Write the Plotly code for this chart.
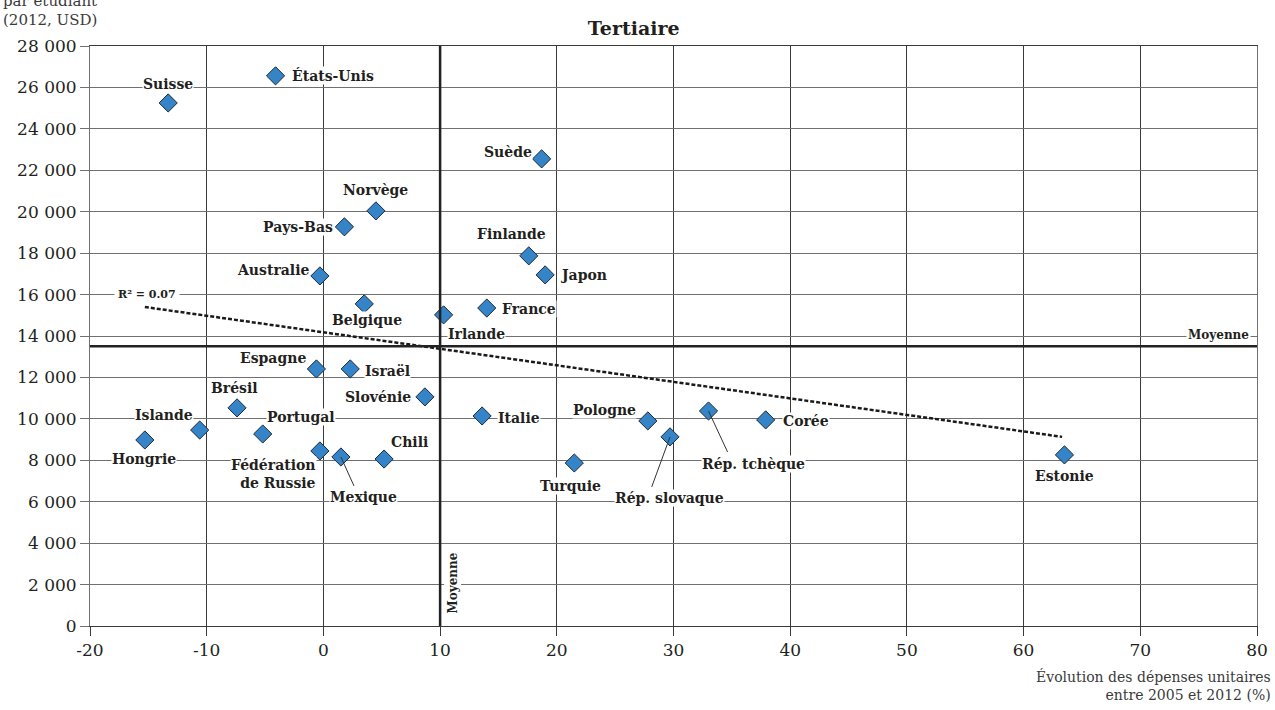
import plotly.graph_objects as go

# ---------------- data ----------------
countries = ["Suisse", "États-Unis", "Suède", "Norvège", "Pays-Bas", "Finlande", "Japon",
             "Australie", "Belgique", "France", "Irlande", "Espagne", "Israël", "Slovénie",
             "Brésil", "Italie", "Pologne", "Rép. tchèque", "Corée", "Rép. slovaque",
             "Islande", "Portugal", "Hongrie", "Fédération<br>de Russie", "Mexique", "Chili",
             "Turquie", "Estonie"]
growth = [-13.3, -4.1, 18.7, 4.5, 1.8, 17.6, 19.0,
          -0.3, 3.5, 14.0, 10.3, -0.6, 2.3, 8.7,
          -7.4, 13.6, 27.8, 33.0, 37.9, 29.7,
          -10.6, -5.2, -15.3, -0.3, 1.5, 5.2,
          21.5, 63.5]
spending = [25250, 26560, 22550, 20040, 19270, 17870, 16950,
            16900, 15550, 15350, 15020, 12410, 12410, 11060,
            10530, 10140, 9900, 10380, 9950, 9130,
            9460, 9270, 8980, 8450, 8160, 8060,
            7870, 8260]

mean_growth = 10
mean_spending = 13500
trend_x = [-15.3, 63.3]
trend_y = [15400, 9130]
r2_text = "R² = 0.07"

x_ticks = [-20, -10, 0, 10, 20, 30, 40, 50, 60, 70, 80]
x_ticklabels = [str(v) for v in x_ticks]
y_ticks = list(range(0, 28001, 2000))
y_ticklabels = ["0" if v == 0 else f"{v // 1000} 000" for v in y_ticks]

# ---------------- style ----------------
FONT = "DejaVu Serif"
TXT = "#231f20"
XGRID = "#3a3a3a"
YGRID = "#707070"
MARK = "#3584c8"
LBL = 14

# label placement: name -> (xanchor, xshift, yshift)
label_pos = {
    "Suisse": ("center", 0, 19),
    "États-Unis": ("left", 15, 0),
    "Suède": ("right", -9, 7),
    "Norvège": ("center", 0, 21),
    "Pays-Bas": ("right", -10, 0),
    "Finlande": ("center", -17, 22),
    "Japon": ("left", 14, 0),
    "Australie": ("right", -10, 6),
    "Belgique": ("center", 3, -16),
    "France": ("left", 14, -1),
    "Irlande": ("left", 3, -19),
    "Espagne": ("right", -9, 11),
    "Israël": ("left", 14, -2),
    "Slovénie": ("right", -13, 0),
    "Brésil": ("center", -3, 20),
    "Italie": ("left", 15, -2),
    "Pologne": ("right", -11, 11),
    "Corée": ("left", 16, -1),
    "Islande": ("right", -6, 15),
    "Portugal": ("left", 3, 17),
    "Hongrie": ("center", -1, -19),
    "Fédération<br>de Russie": ("right", -3, -23),
    "Chili": ("left", 6, 17),
    "Turquie": ("center", -4, -23),
    "Estonie": ("center", 0, -21),
}
# leader lines: name -> (arrow ax, arrow ay, text dx, text dy) in pixels
leaders = {
    "Rép. tchèque": (20, 43, 45, 53),
    "Rép. slovaque": (-19, 52, -1, 61),
    "Mexique": (14, 31, 23, 40),
}

fig = go.Figure()

fig.add_trace(go.Scatter(
    x=trend_x, y=trend_y, mode="lines",
    line=dict(color="#1a1a1a", width=2.5, dash="4px,2px"),
    hoverinfo="skip", showlegend=False))

fig.add_trace(go.Scatter(
    x=growth, y=spending, mode="markers",
    marker=dict(symbol="diamond", size=14, color=MARK,
                line=dict(color="#1f2a36", width=1)),
    text=countries, showlegend=False))

annotations = []
for name, gx, sy in zip(countries, growth, spending):
    if name in label_pos:
        xa, xs, ys = label_pos[name]
        annotations.append(dict(
            x=gx, y=sy, xref="x", yref="y", text=name, showarrow=False,
            xanchor=xa, yanchor="middle", xshift=xs, yshift=ys,
            align="right" if xa == "right" else "center",
            bgcolor="white", borderpad=0,
            font=dict(family=FONT, size=LBL, color=TXT, weight="bold")))
    elif name in leaders:
        ax, ay, dx, dy = leaders[name]
        annotations.append(dict(
            x=gx, y=sy, xref="x", yref="y", text=" ", showarrow=True,
            arrowhead=0, arrowwidth=1, arrowcolor="#333", ax=ax, ay=ay,
            standoff=0, font=dict(size=1)))
        annotations.append(dict(
            x=gx, y=sy, xref="x", yref="y", text=name, showarrow=False,
            xanchor="center", yanchor="middle", xshift=dx, yshift=-dy,
            bgcolor="white", borderpad=0,
            font=dict(family=FONT, size=LBL, color=TXT, weight="bold")))

# R² label
annotations.append(dict(
    x=trend_x[0], y=trend_y[0], xref="x", yref="y", text=r2_text, showarrow=False,
    xanchor="center", yanchor="middle", xshift=2, yshift=13,
    bgcolor="white", borderpad=3,
    font=dict(family=FONT, size=11, color=TXT, weight="bold")))

# Moyenne labels
annotations.append(dict(
    x=1, y=mean_spending, xref="paper", yref="y", text="Moyenne", showarrow=False,
    xanchor="right", yanchor="bottom", xshift=-6, yshift=2, bgcolor="white", borderpad=1,
    font=dict(family=FONT, size=12, color=TXT, weight="bold")))
annotations.append(dict(
    x=mean_growth, y=0, xref="x", yref="paper", text="Moyenne", showarrow=False,
    xanchor="left", yanchor="bottom", xshift=3, yshift=10, textangle=-90,
    bgcolor="white", borderpad=1,
    font=dict(family=FONT, size=12, color=TXT, weight="bold")))

# axis titles
annotations.append(dict(
    x=0, y=1, xref="paper", yref="paper",
    text="Dépenses annuelles<br>par étudiant<br>(2012, USD)", showarrow=False,
    xanchor="left", yanchor="bottom", xshift=-89, yshift=15, align="left",
    font=dict(family=FONT, size=15, color="#3a3a3a")))
annotations.append(dict(
    x=1, y=0, xref="paper", yref="paper",
    text="Évolution des dépenses unitaires<br>entre 2005 et 2012 (%)", showarrow=False,
    xanchor="right", yanchor="top", xshift=16, yshift=-40, align="right",
    font=dict(family=FONT, size=14, color="#3a3a3a")))

fig.update_layout(
    width=1275, height=710,
    margin=dict(l=90, r=18, t=46, b=84, autoexpand=False),
    paper_bgcolor="white", plot_bgcolor="white",
    font=dict(family=FONT, color=TXT),
    title=dict(text="<b>Tertiaire</b>", x=0.497, xref="container", xanchor="center",
               y=1 - 28 / 710, yanchor="middle",
               font=dict(family=FONT, size=19, color=TXT)),
    annotations=annotations,
    shapes=[
        dict(type="line", xref="paper", yref="y", x0=0, x1=1,
             y0=mean_spending, y1=mean_spending, line=dict(color="#222", width=2.5)),
        dict(type="line", xref="x", yref="paper", x0=mean_growth, x1=mean_growth,
             y0=0, y1=1, line=dict(color="#222", width=2.5)),
    ],
    hovermode="closest",
)
fig.update_xaxes(range=[-20, 80], tickvals=x_ticks, ticktext=x_ticklabels, showgrid=True,
                 gridcolor=XGRID, gridwidth=1, zeroline=False, showline=True,
                 linecolor=XGRID, mirror=True, ticks="outside", ticklen=9, tickcolor=XGRID,
                 automargin=False, tickfont=dict(family=FONT, size=17, color=TXT))
fig.update_yaxes(range=[0, 28000], tickvals=y_ticks, ticktext=y_ticklabels, showgrid=True,
                 gridcolor=YGRID, gridwidth=1, zeroline=False, showline=True,
                 linecolor=YGRID, mirror=True, ticks="outside", ticklen=9, tickcolor=YGRID,
                 automargin=False, tickfont=dict(family=FONT, size=17, color=TXT))

fig.write_html("out.html", config={"displayModeBar": False},
               post_script="document.body.style.margin='0';")
